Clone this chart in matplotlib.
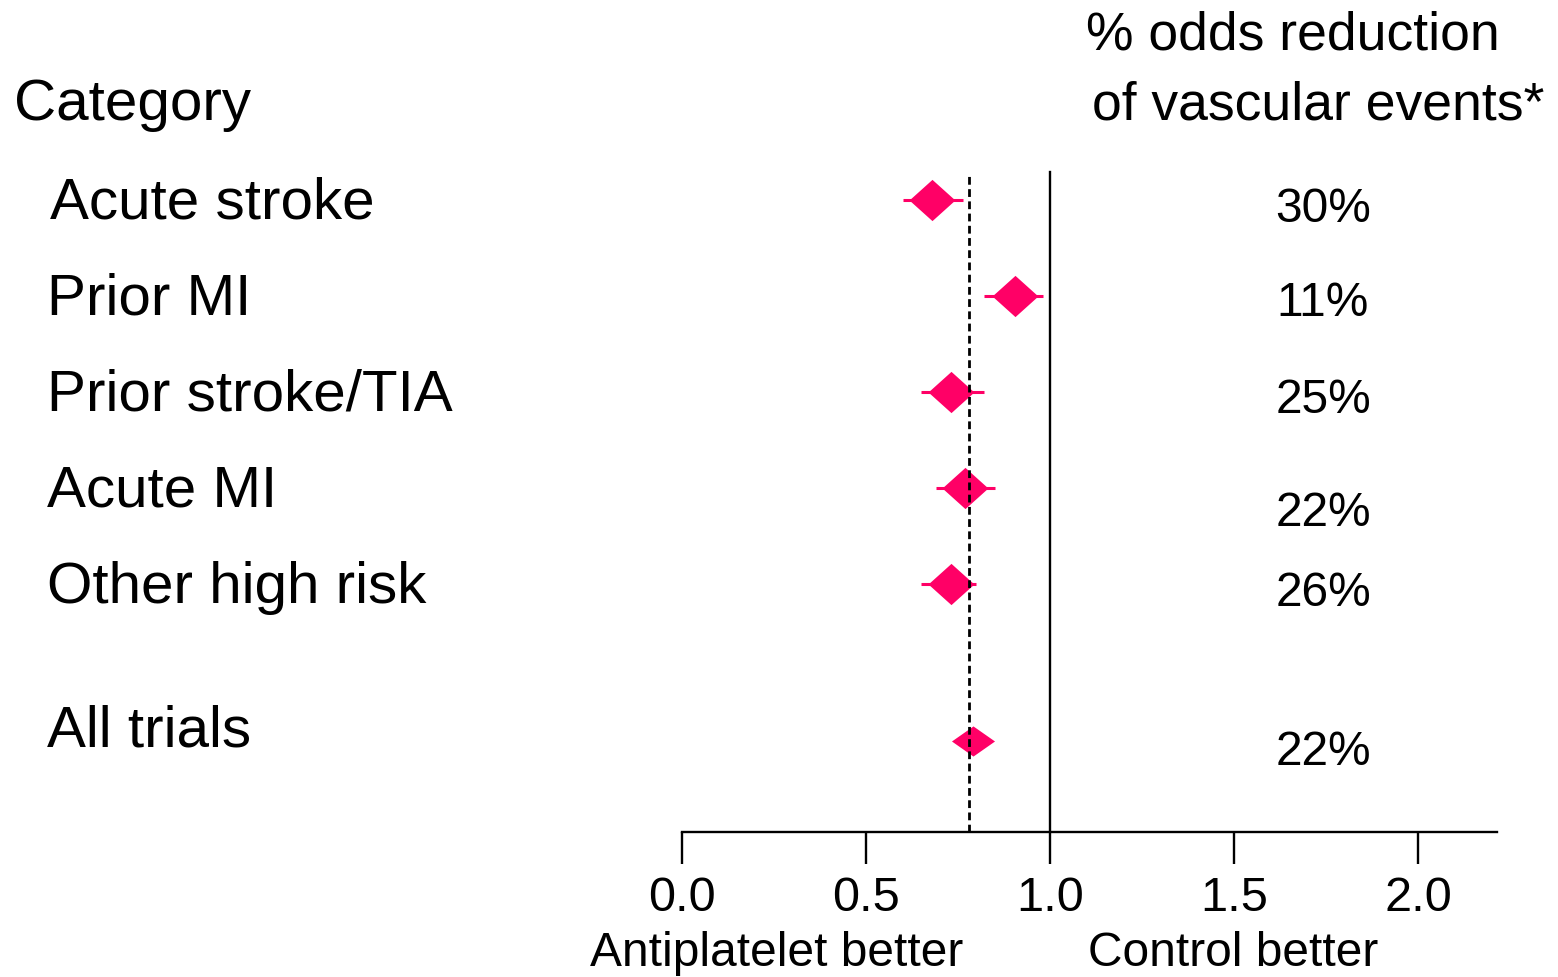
import matplotlib
matplotlib.use('Agg')
import matplotlib.pyplot as plt
import matplotlib.transforms as mtransforms

plt.rcParams['font.family'] = ['Liberation Sans', 'DejaVu Sans']

# data
categories = ['Acute stroke', 'Prior MI', 'Prior stroke/TIA', 'Acute MI', 'Other high risk', 'All trials']
odds_ratio = [0.68, 0.905, 0.73, 0.77, 0.73, 0.79]
ci_low = [0.60, 0.82, 0.65, 0.69, 0.65, 0.79]
ci_high = [0.765, 0.98, 0.82, 0.85, 0.80, 0.79]
reduction = ['30%', '11%', '25%', '22%', '26%', '22%']
xticks = [0.0, 0.5, 1.0, 1.5, 2.0]
overall = 0.78

# layout (row positions, label nudges)
rows = [0, 1, 2, 3, 4, 5.63]
label_nudge = [0.04, 0.04, 0.04, 0.04, 0.04, -0.09]
pct_nudge = [0.1, 0.08, 0.09, 0.27, 0.1, 0.13]

W, H = 1558, 977
fig = plt.figure(figsize=(W / 100, H / 100), dpi=100)
ax = fig.add_axes([682 / W, 1 - 832 / H, (1497 - 682) / W, (832 - 160) / H])

pink = '#ff0066'
diamond = [(-1, 0), (0, 0.9), (1, 0), (0, -0.9), (-1, 0)]
flat_diamond = [(-1, 0), (0, 0.7), (1, 0), (0, -0.7), (-1, 0)]

for i in range(len(categories)):
    ax.plot([ci_low[i], ci_high[i]], [rows[i], rows[i]], color=pink, lw=2.2, solid_capstyle='butt')
    if i == len(categories) - 1:
        ax.plot(odds_ratio[i], rows[i], marker=flat_diamond, markersize=31, color=pink, markeredgewidth=0)
    else:
        ax.plot(odds_ratio[i], rows[i], marker=diamond, markersize=33, color=pink, markeredgewidth=0)

ax.axvline(1.0, ymax=(832 - 172) / (832 - 160), color='black', lw=1.7)
ax.axvline(overall, ymax=(832 - 172) / (832 - 160), color='black', lw=2.0, dashes=(2.8, 1.6))

ax.set_xlim(0, 2.215)
ax.set_ylim(6.583, -0.417)
for s in ['top', 'right', 'left']:
    ax.spines[s].set_visible(False)
ax.spines['bottom'].set_linewidth(1.7)
ax.set_yticks([])
ax.set_xticks(xticks)
ax.set_xticklabels(['%.1f' % t for t in xticks], fontsize=35)
ax.tick_params(axis='x', direction='out', length=23, width=1.7, pad=9)

# texts
tr = mtransforms.blended_transform_factory(fig.transFigure, ax.transData)
for i, cat in enumerate(categories):
    x0 = 50 if i == 0 else 47
    ax.text(x0 / W, rows[i] + label_nudge[i], cat, transform=tr, fontsize=42, va='center', ha='left')
    ax.text(1323 / W, rows[i] + pct_nudge[i], reduction[i], transform=tr, fontsize=34.5, va='center', ha='center')

fig.text(14 / W, 1 - 105 / H, 'Category', fontsize=42, va='center', ha='left')
fig.text(1293 / W, 1 - 36 / H, '% odds reduction', fontsize=38.5, va='center', ha='center')
fig.text(1318 / W, 1 - 106 / H, 'of vascular events*', fontsize=38.5, va='center', ha='center')
fig.text(777 / W, 1 - 954 / H, 'Antiplatelet better', fontsize=34.5, va='center', ha='center')
fig.text(1233 / W, 1 - 954 / H, 'Control better', fontsize=34.5, va='center', ha='center')

fig.savefig('out.png', dpi=100)
